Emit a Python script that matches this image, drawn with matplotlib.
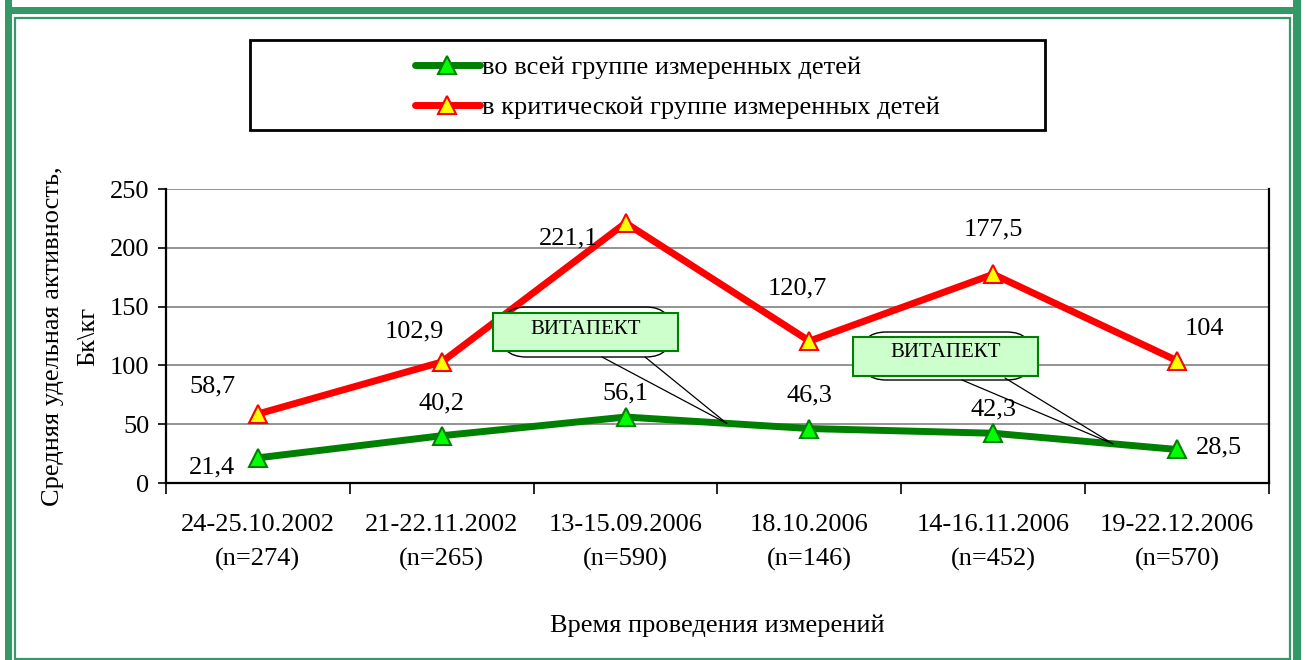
import matplotlib
matplotlib.use("Agg")
import matplotlib.pyplot as plt
from matplotlib.patches import Rectangle, FancyBboxPatch
from matplotlib.lines import Line2D
import numpy as np

plt.rcParams['font.family'] = ['Liberation Serif', 'DejaVu Serif']

categories = ["24-25.10.2002\n(n=274)", "21-22.11.2002\n(n=265)", "13-15.09.2006\n(n=590)",
              "18.10.2006\n(n=146)", "14-16.11.2006\n(n=452)", "19-22.12.2006\n(n=570)"]
all_group = [21.4, 40.2, 56.1, 46.3, 42.3, 28.5]
critical_group = [58.7, 102.9, 221.1, 120.7, 177.5, 104]
all_labels = ["21,4", "40,2", "56,1", "46,3", "42,3", "28,5"]
crit_labels = ["58,7", "102,9", "221,1", "120,7", "177,5", "104"]
series_names = ["во всей группе измеренных детей", "в критической группе измеренных детей"]
yticks = [0, 50, 100, 150, 200, 250]
callout_text = "ВИТАПЕКТ"

FS = 19
W, H = 1305, 660
fig = plt.figure(figsize=(W / 100, H / 100), dpi=100)

def fx(x):
    return x / W

def fy(y):
    return 1 - y / H

# decorative green frame
green_frame = "#339966"
fig.add_artist(Rectangle((fx(5), fy(700)), fx(7), 720 / H, transform=fig.transFigure, color=green_frame, lw=0))
fig.add_artist(Rectangle((fx(1293), fy(700)), fx(8), 720 / H, transform=fig.transFigure, color=green_frame, lw=0))
fig.add_artist(Rectangle((fx(5), fy(14)), fx(1296), 7 / H, transform=fig.transFigure, color=green_frame, lw=0))
fig.add_artist(Rectangle((fx(15.5), fy(658.5)), fx(1274), 640.5 / H, transform=fig.transFigure,
                         fill=False, edgecolor=green_frame, lw=1.6))

ax = fig.add_axes([fx(166), fy(483), fx(1269 - 166), (483 - 189) / H])
x = np.arange(len(categories))

ax.set_xlim(-0.5, len(categories) - 0.5)
ax.set_ylim(0, 250)
ax.set_yticks(yticks)
ax.set_yticklabels([str(v) for v in yticks], fontsize=FS)
ax.set_xticks(x)
ax.set_xticklabels(categories, fontsize=FS, linespacing=1.72)
ax.tick_params(axis='x', length=0, pad=22)
ax.set_xticks(np.arange(len(categories) + 1) - 0.5, minor=True)
ax.tick_params(axis='x', which='minor', length=8, width=1.2, direction='out')
ax.tick_params(axis='y', length=6, width=1.2, direction='out', pad=6)
ax.grid(axis='y', color='#808080', lw=1.2)
ax.set_axisbelow(True)
for s in ['left', 'right', 'bottom']:
    ax.spines[s].set_linewidth(1.6)
    ax.spines[s].set_color('black')
ax.spines['top'].set_visible(False)

ax.plot(x, all_group, color='#008000', lw=5, marker='^', markersize=13,
        markerfacecolor='#00FF00', markeredgecolor='#008000', markeredgewidth=1.5, zorder=4)
ax.plot(x, critical_group, color='#FF0000', lw=5, marker='^', markersize=13,
        markerfacecolor='#FFFF00', markeredgecolor='#FF0000', markeredgewidth=1.5, zorder=4)

# data labels (offsets in points)
all_off = [(-33, -7), (0, 23), (0, 17), (0, 24), (0, 17), (30, 1.5)]
crit_off = [(-33, 20), (-20, 22), (-41, -11), (-9, 38), (0, 32), (20, 23)]
for i in range(len(x)):
    ax.annotate(all_labels[i], (x[i], all_group[i]), xytext=all_off[i], textcoords='offset points',
                ha='center', va='center', fontsize=FS, zorder=6)
    ax.annotate(crit_labels[i], (x[i], critical_group[i]), xytext=crit_off[i], textcoords='offset points',
                ha='center', va='center', fontsize=FS, zorder=6)

ax.set_xlabel("Время проведения измерений", fontsize=FS, labelpad=31)
ax.set_ylabel("Средняя удельная активность,\nБк\\кг", fontsize=FS, labelpad=8, linespacing=1.72)

# callouts
def callout(bubble, box, wedge_base, tip_idx, frac):
    bx0, by0, bx1, by1 = bubble
    fig.add_artist(FancyBboxPatch((fx(bx0), fy(by1)), fx(bx1 - bx0), (by1 - by0) / H,
                                  boxstyle="round,pad=0,rounding_size=0.02", transform=fig.transFigure,
                                  fill=False, edgecolor='black', lw=1.0, mutation_aspect=2.0))
    tipx = x[tip_idx] + frac
    tipy = all_group[tip_idx] + frac * (all_group[tip_idx + 1] - all_group[tip_idx])
    for wx, wy in wedge_base:
        ax.annotate('', xy=(tipx, tipy), xycoords='data', xytext=(fx(wx), fy(wy)),
                    textcoords='figure fraction',
                    arrowprops=dict(arrowstyle='-', lw=0.9, color='black', shrinkA=0, shrinkB=0),
                    zorder=7, annotation_clip=False)
    x0, y0, x1, y1 = box
    fig.add_artist(Rectangle((fx(x0), fy(y1)), fx(x1 - x0), (y1 - y0) / H, transform=fig.transFigure,
                             facecolor='#CCFFCC', edgecolor='#008000', lw=1.5, zorder=8))
    fig.text(fx((x0 + x1) / 2), fy(y0 + 16), callout_text, ha='center', va='center', fontsize=15, zorder=9)

callout((500, 307, 672, 357), (493, 313, 678, 351), [(602, 357), (645, 357)], 2, 0.55)
callout((860, 332, 1033, 380), (853, 337, 1038, 376), [(962, 380), (1005, 378)], 4, 0.65)

# legend
fig.add_artist(Rectangle((fx(250), fy(130)), fx(795), 90 / H, transform=fig.transFigure,
                         fill=False, edgecolor='black', lw=2))
handles = [
    Line2D([], [], color='#008000', lw=5, marker='^', markersize=13, markerfacecolor='#00FF00',
           markeredgecolor='#008000', markeredgewidth=1.5, solid_capstyle='round'),
    Line2D([], [], color='#FF0000', lw=5, marker='^', markersize=13, markerfacecolor='#FFFF00',
           markeredgecolor='#FF0000', markeredgewidth=1.5, solid_capstyle='round'),
]
fig.legend(handles, series_names, loc='upper left', bbox_to_anchor=(fx(415), fy(56)),
           frameon=False, fontsize=FS, handlelength=2.45, handletextpad=0.1, labelspacing=0.62,
           borderaxespad=0, borderpad=0)

fig.savefig("out.png", dpi=100)
